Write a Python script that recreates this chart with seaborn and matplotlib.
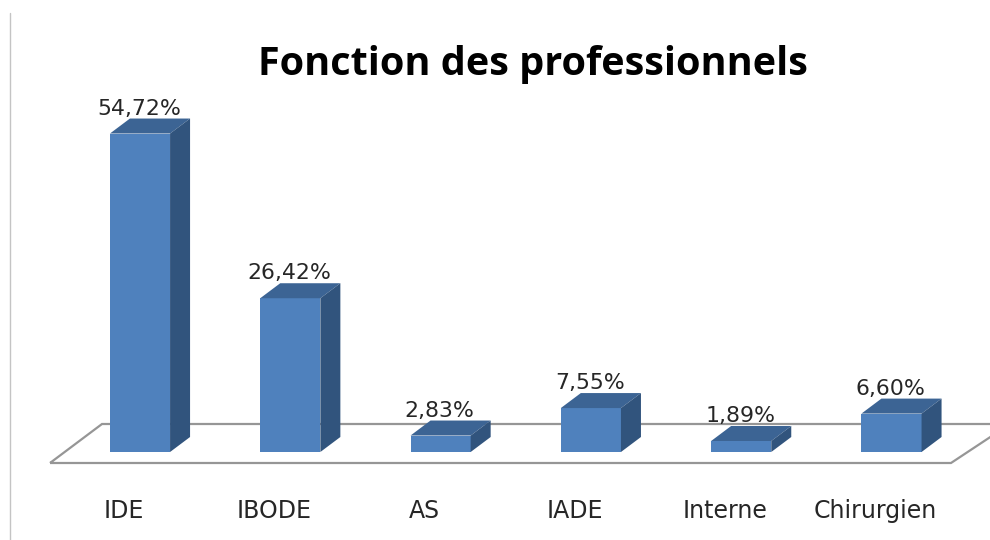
# bar chart with fake 3d look
import matplotlib
matplotlib.use('Agg')
import matplotlib.pyplot as plt
from matplotlib.patches import Polygon
import pandas as pd
import seaborn as sns

categories = ['IDE', 'IBODE', 'AS', 'IADE', 'Interne', 'Chirurgien']
values = [54.72, 26.42, 2.83, 7.55, 1.89, 6.60]
labels = ['54,72%', '26,42%', '2,83%', '7,55%', '1,89%', '6,60%']

sns.set_theme(style='white')
plt.rcParams['font.family'] = ['Open Sans', 'DejaVu Sans']

W, H = 990, 540
fig = plt.figure(figsize=(W / 100, H / 100), dpi=100)
ax = fig.add_axes([0, 0, 1, 1])

# scales: pixels per category and per percent
px_cat = 150.3
px_val = 5.82
x0 = 140
y0 = 452


def px(x, y):
    # pixel position in the reference to data coords
    return (x - x0) / px_cat, (y0 - y) / px_val


df = pd.DataFrame({'fonction': categories, 'valeur': values})
sns.barplot(data=df, x='fonction', y='valeur', color='#4F81BD', saturation=1,
            width=0.4, ax=ax, zorder=3)
ax.set_xlim(-x0 / px_cat, (W - x0) / px_cat)
ax.set_ylim(-(H - y0) / px_val, y0 / px_val)

# floor goes under the bars
floor_color = '#969696'
ax.add_patch(Polygon([px(50, 463), px(102, 424), px(1010, 424), px(951, 463)],
                     closed=True, fill=False, edgecolor=floor_color, lw=1.6, zorder=1))
# thin line on the left of the picture
ax.plot(*zip(px(9.5, 13), px(9.5, 540)), color='#c4c4c4', lw=1.0, zorder=1)

dx = 20 / px_cat
dy = 15 / px_val

# top and side faces from the real bars
for bar, lab, cat in zip(ax.containers[0], labels, categories):
    bar.set_edgecolor('none')
    left = bar.get_x()
    right = left + bar.get_width()
    top = bar.get_height()
    ax.add_patch(Polygon([(left, top), (left + dx, top + dy), (right + dx, top + dy), (right, top)],
                         closed=True, facecolor='#3C6494', edgecolor='none', zorder=3))
    ax.add_patch(Polygon([(right, 0), (right + dx, dy), (right + dx, top + dy), (right, top)],
                         closed=True, facecolor='#31547D', edgecolor='none', zorder=3))
    mid = (left + right) / 2
    ax.text(mid - 1 / px_cat, top + dy + 4 / px_val, lab, ha='center', va='baseline', fontsize=15.8,
            family='DejaVu Sans', color='#262626', zorder=4)
    ax.text(mid - 16 / px_cat, px(0, 518)[1], cat, ha='center', va='baseline', fontsize=17,
            family='DejaVu Sans', color='#262626', zorder=4)

tx, ty = px(533, 65)
ax.text(tx, ty, 'Fonction des professionnels', ha='center', va='center', fontsize=28.5,
        fontweight='bold', color='black', zorder=4)

ax.axis('off')
fig.savefig('out.png', dpi=100, facecolor='white')
